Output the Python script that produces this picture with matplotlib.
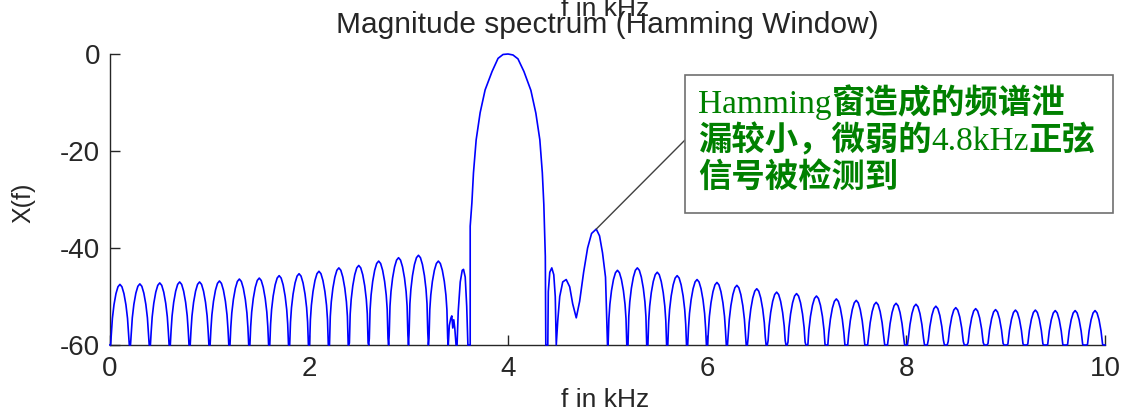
import numpy as np
import matplotlib.pyplot as plt
from matplotlib.patches import Rectangle

# sidelobe peaks, each lobe is 0.2 kHz wide
left_lobe_f = [0.1, 0.3, 0.5, 0.7, 0.9, 1.1, 1.3, 1.5, 1.7, 1.9, 2.1, 2.3, 2.5, 2.7, 2.9, 3.1, 3.3]
left_lobe_db = [-47.5, -47.4, -47.2, -47.0, -47.0, -46.8, -46.4, -46.2, -45.7, -45.3, -44.8,
                -44.1, -43.6, -42.7, -42.0, -41.5, -42.7]
right_lobe_f = [5.1, 5.3, 5.5, 5.7, 5.9, 6.1, 6.3, 6.5, 6.7, 6.9, 7.1, 7.3, 7.5, 7.7, 7.9,
                8.1, 8.3, 8.5, 8.7, 8.9, 9.1, 9.3, 9.5, 9.7, 9.9]
right_lobe_db = [-44.6, -44.1, -45.0, -45.7, -46.5, -47.1, -47.7, -48.4, -49.1, -49.4, -49.9,
                 -50.5, -50.8, -51.2, -51.4, -51.6, -52.0, -52.3, -52.5, -52.7, -52.8, -52.8,
                 -52.9, -52.9, -52.9]

# main lobe (4 kHz) and the weak 4.8 kHz tone, traced point by point
mid_f = [3.40, 3.41, 3.425, 3.435, 3.445, 3.455, 3.465, 3.478, 3.488, 3.50, 3.52, 3.54, 3.553,
         3.57, 3.585, 3.597, 3.62, 3.62, 3.637, 3.653, 3.68, 3.72, 3.77, 3.84, 3.90, 3.95, 4.0,
         4.05, 4.10, 4.16, 4.23, 4.28, 4.32, 4.345, 4.36, 4.375, 4.38, 4.40, 4.405, 4.42, 4.44,
         4.46, 4.475, 4.485, 4.50, 4.52, 4.55, 4.585, 4.62, 4.65, 4.686, 4.72, 4.76, 4.80, 4.84,
         4.887, 4.92, 4.95, 4.98, 5.0]
mid_db = [-60, -56, -54.5, -54.0, -56.5, -54.8, -56.5, -60, -60, -53, -47, -44.6, -44.4,
          -46, -52, -60, -60, -35.5, -30.7, -24.5, -17.7, -12.1, -7.4, -3.6, -0.9, -0.1, 0,
          -0.2, -1.0, -3.6, -7.5, -12.2, -17.7, -24.5, -31, -41.7, -60, -60, -49, -45, -44.1,
          -45.5, -50, -60, -55, -50, -47, -46.5, -48, -51.5, -54.4, -51, -45, -40, -37,
          -36.1, -37.5, -41, -46, -60]

# shape of one sidelobe: offset in lobe widths, dB below its peak
lobe_u = [-0.5, -0.47, -0.43, -0.38, -0.3, -0.2, -0.1, 0.0, 0.1, 0.2, 0.3, 0.38, 0.43, 0.47, 0.5]
lobe_drop = [-40, -16, -10, -7, -4.2, -1.9, -0.5, 0, -0.5, -1.9, -4.2, -7, -10, -16, -40]
lobe_w = 0.2

note_lines = [
    [('Hamming', 'latin'), ('窗造成的频谱泄', 'cjk')],
    [('漏较小，微弱的', 'cjk'), ('4.8kHz', 'latin'), ('正弦', 'cjk')],
    [('信号被检测到', 'cjk')],
]


def lobes(centers, peaks):
    fs, ds = [], []
    for c, p in zip(centers, peaks):
        fs += [c + u * lobe_w for u in lobe_u]
        ds += [p + d for d in lobe_drop]
    return fs, ds


lf, ld = lobes(left_lobe_f, left_lobe_db)
rf, rd = lobes(right_lobe_f, right_lobe_db)
f = np.array(lf + mid_f + rf)
db = np.maximum(np.array(ld + mid_db + rd), -60)

txt = '#262626'
W, H = 1127, 416
plt.rcParams['font.family'] = ['Liberation Sans', 'DejaVu Sans']
plt.rcParams['axes.unicode_minus'] = False

fig = plt.figure(figsize=(W / 100, H / 100), dpi=100)
ax = fig.add_axes([110 / W, 1 - 345 / H, 995 / W, 291 / H])
ax.plot(f, db, color='#0000ff', lw=1.2, clip_on=False, zorder=3)

ax.set_xlim(0, 10)
ax.set_ylim(-60, 0)
ax.set_xticks([0, 2, 4, 6, 8, 10])
ax.set_yticks([-60, -40, -20, 0])
for s in ['top', 'right']:
    ax.spines[s].set_visible(False)
for s in ['left', 'bottom']:
    ax.spines[s].set_color(txt)
    ax.spines[s].set_linewidth(1.0)
ax.tick_params(direction='in', length=7, width=1.0, colors=txt, labelsize=20)
ax.tick_params(axis='x', pad=8)
ax.tick_params(axis='y', pad=7)

fig.text(607 / W, 1 - 25 / H, 'Magnitude spectrum (Hamming Window)',
         ha='center', va='center', fontsize=21.5, color=txt)
fig.text(605 / W, 1 - 16 / H, 'f in kHz', ha='center', va='baseline', fontsize=19, color=txt)
fig.text(605 / W, 1 - 400 / H, 'f in kHz', ha='center', va='center', fontsize=19, color=txt)
fig.text(23 / W, 1 - 203 / H, 'X(f)', ha='center', va='center', rotation=90,
         fontsize=18, color=txt)

# annotation box with mixed serif / bold CJK text
fig.patches.append(Rectangle((685 / W, 1 - 213 / H), 428 / W, 138 / H,
                             transform=fig.transFigure, facecolor='white',
                             edgecolor='#707070', lw=1.2, zorder=5))
renderer = fig.canvas.get_renderer()
baselines = [113, 150, 186.5]
for runs, yb in zip(note_lines, baselines):
    x = 698
    for s, kind in runs:
        if kind == 'latin':
            kw = dict(family=['Liberation Serif', 'DejaVu Serif'], weight='normal')
        else:
            kw = dict(family=['Noto Sans CJK SC', 'DejaVu Sans'], weight='bold')
        t = fig.text(x / W, 1 - yb / H, s, ha='left', va='baseline', fontsize=24,
                     color='#008000', zorder=6, **kw)
        x = t.get_window_extent(renderer).x1

ax.annotate('', xy=(4.887, -36.1), xytext=(685 / W, 1 - 140 / H),
            textcoords='figure fraction',
            arrowprops=dict(arrowstyle='-', color='#404040', lw=1.0, shrinkA=0, shrinkB=0))

fig.savefig('out.png', dpi=100)
